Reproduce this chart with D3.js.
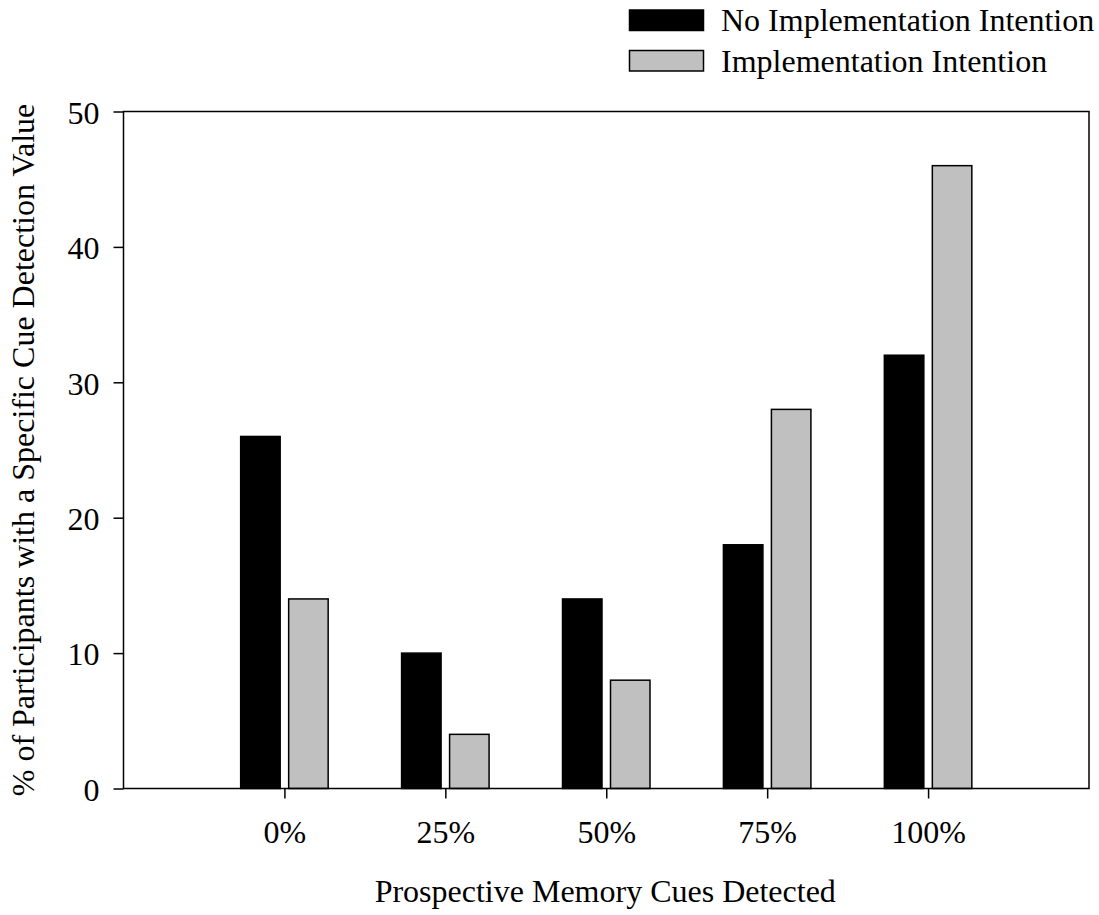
<!DOCTYPE html>
<html>
<head>
<meta charset="utf-8">
<script src="https://cdn.jsdelivr.net/npm/d3@7"></script>
<style>
  html, body { margin: 0; padding: 0; background: #fff; }
  text { font-family: "Liberation Serif", "Times New Roman", serif; fill: #000; }
</style>
</head>
<body>
<svg id="chart" width="1099" height="915"></svg>
<script>
// categories and values
var categories = ["0%", "25%", "50%", "75%", "100%"];
var seriesNames = ["No Implementation Intention", "Implementation Intention"];
var noIntention = [26, 10, 14, 18, 32];
var withIntention = [14, 4, 8, 28, 46];
var yTicks = [0, 10, 20, 30, 40, 50];

var colors = ["#000000", "#c0c0c0"];
var FONT = 32;

var svg = d3.select("#chart");
var mLeft = 123.5, mRight = 1089, mTop = 111.5, mBottom = 788.5;

// six slots, categories sit at 1..5
var x = d3.scaleLinear().domain([0, 6]).range([mLeft, mRight]);
var y = d3.scaleLinear().domain([0, 50]).range([mBottom, mTop]);

var barW = 39.5, gap = 8.5;

var series = [noIntention, withIntention];

series.forEach(function(vals, s) {
    svg.append("g")
        .selectAll("rect")
        .data(vals)
        .enter()
        .append("rect")
        .attr("x", function(d, i) {
            var c = x(i + 1);
            return s === 0 ? c - gap / 2 - barW : c + gap / 2;
        })
        .attr("y", function(d) { return y(d); })
        .attr("width", barW)
        .attr("height", function(d) { return y(0) - y(d); })
        .attr("fill", colors[s])
        .attr("stroke", "#000")
        .attr("stroke-width", 1.5);
});

// frame
svg.append("rect")
    .attr("x", mLeft).attr("y", mTop)
    .attr("width", mRight - mLeft).attr("height", mBottom - mTop)
    .attr("fill", "none").attr("stroke", "#000").attr("stroke-width", 1.5);

// y axis
var yAxis = d3.axisLeft(y).tickValues(yTicks).tickSize(10).tickPadding(14);
var gy = svg.append("g").attr("transform", "translate(" + mLeft + ",0)").call(yAxis);
gy.select(".domain").remove();
gy.selectAll("line").attr("stroke", "#000").attr("stroke-width", 1.5);
gy.selectAll("text").attr("font-size", FONT).attr("font-family", "Liberation Serif").attr("dy", "0.37em");

// x axis
var xAxis = d3.axisBottom(x)
    .tickValues([1, 2, 3, 4, 5])
    .tickFormat(function(d) { return categories[d - 1]; })
    .tickSize(10).tickPadding(22);
var gx = svg.append("g").attr("transform", "translate(0," + mBottom + ")").call(xAxis);
gx.select(".domain").remove();
gx.selectAll("line").attr("stroke", "#000").attr("stroke-width", 1.5);
gx.selectAll("text").attr("font-size", FONT).attr("font-family", "Liberation Serif");

// axis titles
svg.append("text")
    .attr("x", (mLeft + mRight) / 2 - 1)
    .attr("y", 902)
    .attr("text-anchor", "middle")
    .attr("font-size", FONT)
    .text("Prospective Memory Cues Detected");

svg.append("text")
    .attr("transform", "translate(34," + ((mTop + mBottom) / 2) + ") rotate(-90)")
    .attr("text-anchor", "middle")
    .attr("font-size", FONT)
    .text("% of Participants with a Specific Cue Detection Value");

// legend
var legend = svg.append("g");
seriesNames.forEach(function(name, i) {
    var ly = 10 + i * 40.5;
    legend.append("rect")
        .attr("x", 629.5).attr("y", ly)
        .attr("width", 74).attr("height", 20.5)
        .attr("fill", colors[i])
        .attr("stroke", "#000").attr("stroke-width", 1.5);
    legend.append("text")
        .attr("x", 721)
        .attr("y", ly + 21)
        .attr("font-size", FONT)
        .text(name);
});
</script>
</body>
</html>
